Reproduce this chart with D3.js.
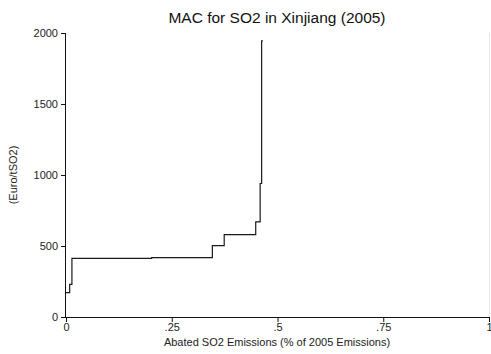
<!DOCTYPE html>
<html>
<head>
<meta charset="utf-8">
<script src="https://cdn.jsdelivr.net/npm/d3@7"></script>
<style>
  body { margin: 0; background: #fff; }
  svg { display: block; font-family: "Liberation Sans", Arial, sans-serif; }
</style>
</head>
<body>
<svg id="chart" width="491" height="354"></svg>
<script>
// Marginal abatement cost curve: each step starts at a cumulative abated share
const abatedShare = [0, 0.0087, 0.014, 0.2025, 0.346, 0.374, 0.4485, 0.459, 0.4625, 0.4655];
const costEuroPerTon = [171, 230, 413, 418, 502, 580, 670, 940, 1945, 1945];
const xTicks = [0, 0.25, 0.5, 0.75, 1];
const xTickLabels = ["0", ".25", ".5", ".75", "1"];
const yTicks = [0, 500, 1000, 1500, 2000];

const svg = d3.select("#chart");
const m = { left: 66, right: 489, top: 33, bottom: 317 };

const x = d3.scaleLinear().domain([0, 1]).range([m.left, m.right]);
const y = d3.scaleLinear().domain([0, 2000]).range([m.bottom, m.top]);

// faint plot-region border on the right
svg.append("line")
  .attr("x1", m.right + 0.5).attr("x2", m.right + 0.5)
  .attr("y1", m.top).attr("y2", m.bottom)
  .attr("stroke", "#e6e6e6").attr("stroke-width", 1);

// title
svg.append("text")
  .attr("x", 277).attr("y", 23)
  .attr("text-anchor", "middle")
  .attr("font-size", 15.5).attr("fill", "#111")
  .text("MAC for SO2 in Xinjiang (2005)");

// y axis
const yAxis = svg.append("g")
  .attr("transform", `translate(${m.left},0)`)
  .call(d3.axisLeft(y).tickValues(yTicks).tickSize(5).tickPadding(3).tickFormat(d3.format("d")));
yAxis.selectAll("text").attr("font-size", 11).attr("fill", "#222").attr("font-family", "Liberation Sans, Arial, sans-serif");
yAxis.selectAll("line, path").attr("stroke", "#111");

// x axis
const xAxis = svg.append("g")
  .attr("transform", `translate(0,${m.bottom})`)
  .call(d3.axisBottom(x).tickValues(xTicks).tickSize(5).tickPadding(1)
    .tickFormat((d, i) => xTickLabels[i]));
xAxis.selectAll("text").attr("font-size", 11).attr("fill", "#222").attr("font-family", "Liberation Sans, Arial, sans-serif");
xAxis.selectAll("line, path").attr("stroke", "#111");
xAxis.select("path.domain").attr("d", `M${m.left},0.5H${m.right}`);
yAxis.select("path.domain").attr("d", `M-0.5,${m.bottom}V${m.top}`);

// axis titles
svg.append("text")
  .attr("x", 277).attr("y", 346)
  .attr("text-anchor", "middle")
  .attr("font-size", 11).attr("fill", "#222")
  .text("Abated SO2 Emissions (% of 2005 Emissions)");

svg.append("text")
  .attr("transform", "translate(17,175) rotate(-90)")
  .attr("text-anchor", "middle")
  .attr("font-size", 11).attr("fill", "#222")
  .text("(Euro/tSO2)");

// the cost curve as a staircase
const pts = abatedShare.map((d, i) => [d, costEuroPerTon[i]]);
const line = d3.line()
  .x(d => x(d[0]))
  .y(d => y(d[1]))
  .curve(d3.curveStepAfter);

svg.append("path")
  .datum(pts)
  .attr("d", line)
  .attr("fill", "none")
  .attr("stroke", "#1a1a1a")
  .attr("stroke-width", 1.2);
</script>
</body>
</html>
